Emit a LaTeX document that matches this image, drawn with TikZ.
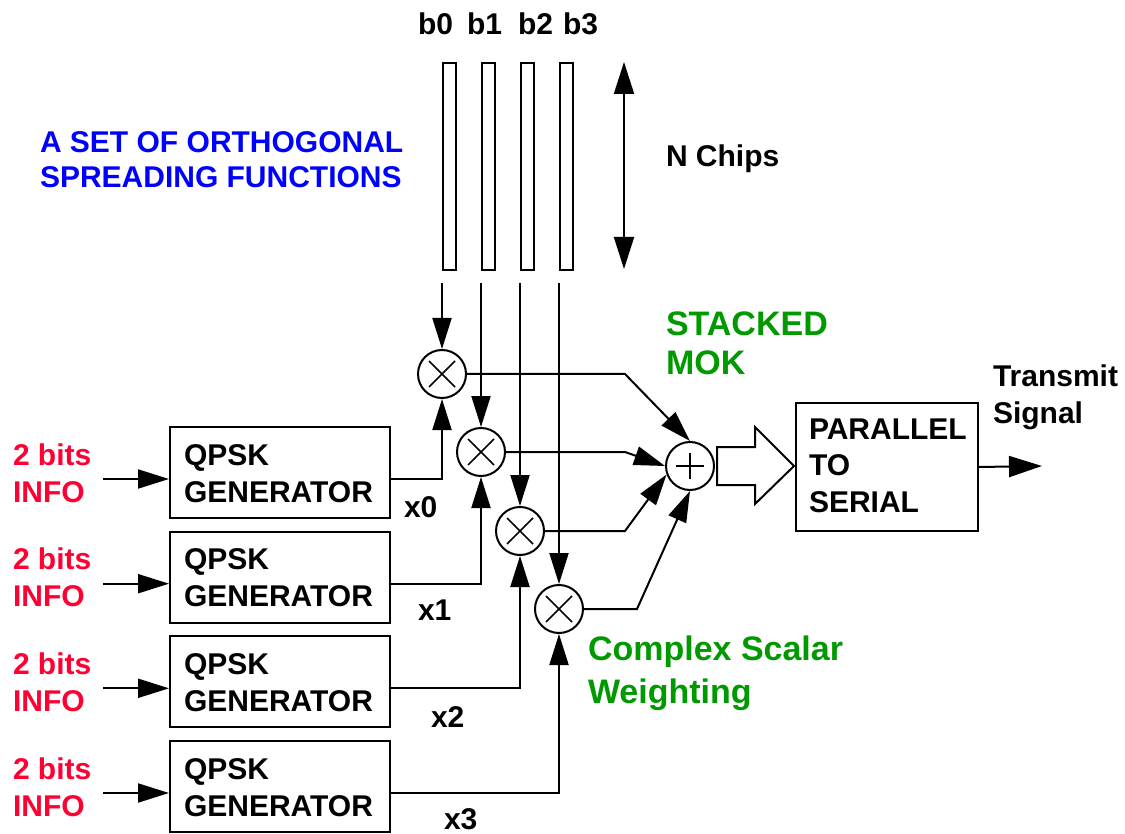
\documentclass[tikz,border=0pt]{standalone}
\usepackage{fontspec}
\setmainfont{Liberation Sans}
\usetikzlibrary{arrows.meta}
\definecolor{infored}{RGB}{255,0,51}
\definecolor{setblue}{RGB}{0,0,255}
\definecolor{mokgreen}{RGB}{0,153,0}
\begin{document}
\begin{tikzpicture}[x=1pt,y=-1pt,line width=2pt,
  txt/.style={anchor=base west,inner sep=0pt,font=\bfseries\fontsize{30}{36}\selectfont},
  gtxt/.style={txt,text=mokgreen,font=\bfseries\fontsize{34}{40}\selectfont},
  rtxt/.style={txt,text=infored},
  btxt/.style={txt,text=setblue},
  genbox/.style={draw,anchor=north west,minimum width=220pt,minimum height=91pt,inner sep=0pt},
  barbox/.style={draw,anchor=north west,minimum width=13pt,minimum height=207pt,inner sep=0pt},
  mult/.style={draw,circle,minimum size=48pt,inner sep=0pt,
    path picture={\draw[line width=1.6pt] ([shift={(-13,-13)}]path picture bounding box.center) -- ([shift={(13,13)}]path picture bounding box.center)
      ([shift={(-13,13)}]path picture bounding box.center) -- ([shift={(13,-13)}]path picture bounding box.center);}},
  summ/.style={draw,circle,minimum size=48pt,inner sep=0pt,
    path picture={\draw[line width=1.6pt] ([shift={(-14,0)}]path picture bounding box.center) -- ([shift={(14,0)}]path picture bounding box.center)
      ([shift={(0,-13)}]path picture bounding box.center) -- ([shift={(0,13)}]path picture bounding box.center);}},
  arr/.style={-{Triangle[length=31pt,width=19pt]}},
  darr/.style={{Triangle[length=32pt,width=20pt]}-{Triangle[length=32pt,width=20pt]}},
  oarr/.style={-{Triangle[length=33pt,width=21pt]}}
]
\useasboundingbox (0,0) rectangle (1125,834);

% bars
\foreach \i/\x in {0/442,1/481,2/520,3/559}{
  \node[barbox] (bar\i) at (\x,62) {};
  \coordinate (bl\i) at (\x,283);
}
\node[txt] (lb0) at (417,35) {b0};
\node[txt] (lb1) at (466,35) {b1};
\node[txt] (lb2) at (517,35) {b2};
\node[txt] (lb3) at (562,35) {b3};

% N chips arrow
\coordinate (nt) at (624,62);
\coordinate (nb) at (624,269);
\draw[darr] (nt) -- (nb);
\node[txt] (nchips) at (665,167) {N Chips};

% blue text
\node[btxt] (set1) at (39,153) {A SET OF ORTHOGONAL};
\node[btxt] (set2) at (39,188) {SPREADING FUNCTIONS};

% green text
\node[gtxt] (st1) at (665,336) {STACKED};
\node[gtxt] (st2) at (665,375) {MOK};
\node[gtxt] (cs1) at (587,660) {Complex Scalar};
\node[gtxt] (cs2) at (587,703) {Weighting};

% multipliers and sum
\node[mult] (m0) at (442,374) {};
\node[mult] (m1) at (481,452) {};
\node[mult] (m2) at (520,531) {};
\node[mult] (m3) at (559,609) {};
\node[summ] (S) at (690,466) {};

% bar lines to multipliers
\foreach \i in {0,1,2,3}{
  \draw[arr] (bl\i) -- (m\i.north);
}

% multipliers to sum
\coordinate (k0) at (625,374);
\coordinate (k1) at (625,452);
\coordinate (k2) at (625,531);
\coordinate (k3) at (637,609);
\draw[arr] (m0.east) -- (k0) -- (S.north);
\draw[arr] (m1.east) -- (k1) -- (S.west);
\draw[arr] (m2.east) -- (k2) -- (S.200);
\draw[arr] (m3.east) -- (k3) -- (S.south);

% QPSK generators
\foreach \i/\y in {0/426,1/530.7,2/635.3,3/740}{
  \node[genbox] (q\i) at (169,\y) {};
  \node[txt] (qa\i) at (183,\y+39) {QPSK};
  \node[txt] (qb\i) at (183,\y+76) {GENERATOR};
  \node[rtxt] (ra\i) at (12,\y+39) {2 bits};
  \node[rtxt] (rb\i) at (12,\y+76) {INFO};
  \coordinate (in\i) at (103,\y+53);
  \coordinate (out\i) at (389,\y+53);
  \draw[arr] (in\i) -- (in\i -| q\i.west);
  \draw[arr] (out\i) -| (m\i.south);
}
\node[txt] (x0) at (403,517) {x0};
\node[txt] (x1) at (417,620) {x1};
\node[txt] (x2) at (430,727) {x2};
\node[txt] (x3) at (443,829) {x3};

% block arrow
\draw[line join=miter] (717,447) -- (755,447) -- (755,427) -- (794,466) -- (755,504) -- (755,485) -- (717,485) -- cycle;

% parallel to serial
\node[draw,anchor=north west,minimum width=182pt,minimum height=128pt,inner sep=0pt] (ps) at (795,402) {};
\node[txt] (ps1) at (808,439) {PARALLEL};
\node[txt] (ps2) at (808,475) {TO};
\node[txt] (ps3) at (808,512) {SERIAL};
\coordinate (outend) at (1042,466);
\draw[oarr] (ps.east) -- (outend);
\node[txt] (tr1) at (992,387) {Transmit};
\node[txt] (tr2) at (992,423) {Signal};
\end{tikzpicture}
\end{document}
